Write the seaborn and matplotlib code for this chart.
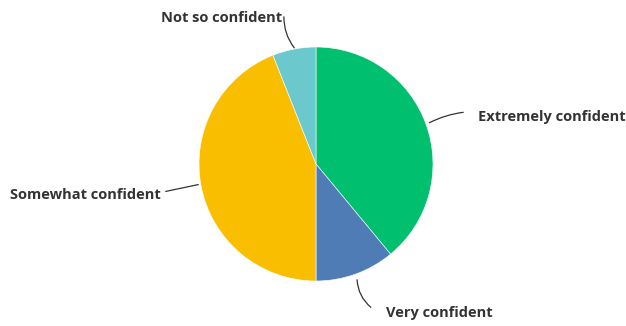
import matplotlib
matplotlib.use("Agg")
import matplotlib.pyplot as plt
import seaborn as sns

categories = ["Extremely confident", "Very confident", "Somewhat confident", "Not so confident"]
values = [39, 11, 44, 6]
colors = ["#00BF6F", "#507CB6", "#F9BE00", "#6BC8CD"]

sns.set_theme(style="white")
plt.rcParams['font.family'] = ['Open Sans', 'DejaVu Sans']

fig = plt.figure(figsize=(6.26, 3.26), dpi=100)
ax = fig.add_axes([0, 0, 1, 1])
H = 326
cx, cy, r = 316, H - 164, 117
ax.pie(values, colors=colors, startangle=90, counterclock=False,
       center=(cx, cy), radius=r, wedgeprops=dict(linewidth=0.4, edgecolor="white"))
ax.set_xlim(0, 626)
ax.set_ylim(0, H)
ax.set_aspect("equal")
ax.axis("off")

# label positions (pixel coords, y from top)
labels = {
    "Extremely confident": dict(text=(478, 117), ha="left", tip=(427, 124), end=(466, 112), rad=0.1),
    "Very confident": dict(text=(386, 313), ha="left", tip=(357, 277), end=(373, 309), rad=-0.25),
    "Somewhat confident": dict(text=(161, 195), ha="right", tip=(201, 184), end=(163, 192), rad=0.0),
    "Not so confident": dict(text=(282, 18), ha="right", tip=(296, 50), end=(284, 14), rad=0.2),
}
for cat in categories:
    d = labels[cat]
    ax.text(d["text"][0], H - d["text"][1], cat, ha=d["ha"], va="center",
            fontsize=10.5, fontweight="bold", color="#333333")
    ax.annotate("", xy=(d["tip"][0], H - d["tip"][1]), xytext=(d["end"][0], H - d["end"][1]),
                arrowprops=dict(arrowstyle="-", color="#333333", lw=0.9,
                                connectionstyle=f"arc3,rad={d['rad']}"))

fig.savefig("out.png", dpi=100)
